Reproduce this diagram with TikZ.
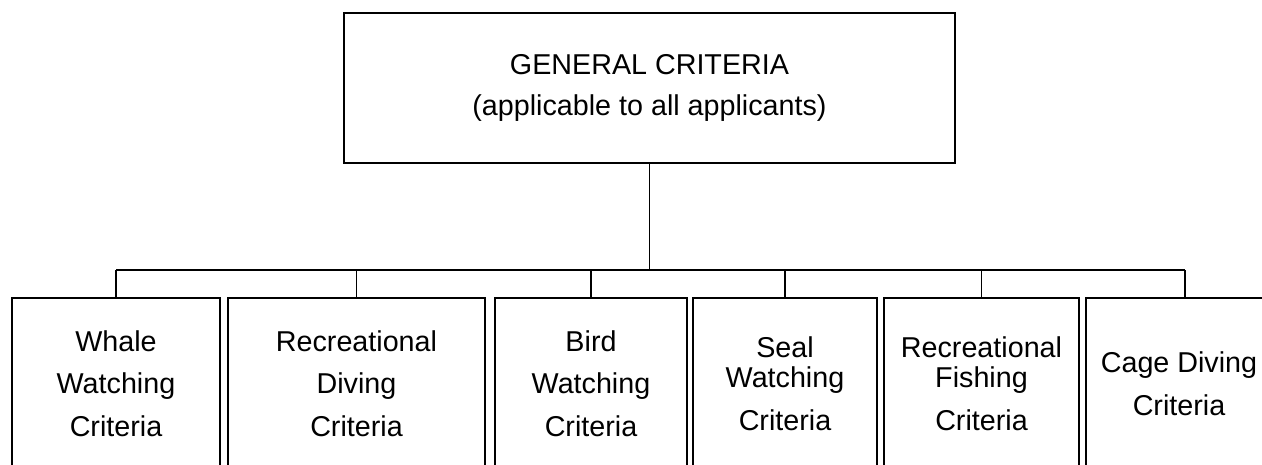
\documentclass[tikz,border=0pt]{standalone}
\usepackage{fontspec}
\setmainfont{Liberation Sans}
\usepackage{tikz}
\usetikzlibrary{positioning}
\tikzset{
    critbox/.style={draw=black, rectangle, align=center, inner sep=0pt,
        minimum height=171},
    genbox/.style={critbox, minimum width=611, minimum height=150},
    branch/.style={draw=black},
}

\begin{document}
\begin{tikzpicture}[x=1pt, y=-1pt, line width=1.1pt,
    font=\fontsize{28.7}{42.5}\selectfont]
\useasboundingbox (0,0) rectangle (1262,464);
	\node[genbox] (gen) at (649.5,88) {GENERAL CRITERIA\\[-1.5pt](applicable to all applicants)};
	\coordinate (bus) at (650,270);
	% the six activity boxes run off the bottom edge
	\node[critbox, minimum width=208] (whale) at (116,383.5) {Whale\\Watching\\Criteria};
	\node[critbox, minimum width=257] (rdiving) at (356.5,383.5) {Recreational\\Diving\\Criteria};
	\node[critbox, minimum width=192] (bird) at (591,383.5) {Bird\\Watching\\Criteria};
	\node[critbox, minimum width=184] (seal) at (785,383.5) {Seal\\[-12.5pt]Watching\\Criteria};
	\node[critbox, minimum width=195] (rfishing) at (981.5,383.5) {Recreational\\[-12.5pt]Fishing\\Criteria};
	\node[critbox, minimum width=186] (cage) at (1179,383.5) {Cage Diving\\Criteria};
	\coordinate (cagetop) at ([xshift=6pt]cage.north);
	\draw[branch] (gen.south) -- (gen.south |- bus);
	\draw[branch] (whale.north |- bus) -- (cagetop |- bus);
	\foreach \n in {whale,rdiving,bird,seal,rfishing}
		\draw[branch] (\n.north |- bus) -- (\n.north);
	\draw[branch] (cagetop |- bus) -- (cagetop);
\end{tikzpicture}
\end{document}
